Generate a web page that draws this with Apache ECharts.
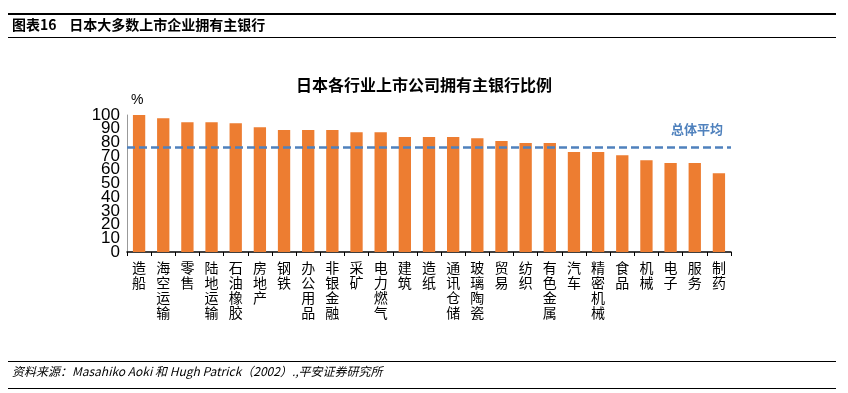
<!DOCTYPE html>
<html><head><meta charset="utf-8">
<script src="https://cdn.jsdelivr.net/npm/echarts@6/dist/echarts.min.js"></script>
<style>html,body{margin:0;padding:0;background:#fff}#c{width:848px;height:393px}</style>
</head><body><div id="c"></div>
<script>
const categories = ['造船','海空运输','零售','陆地运输','石油橡胶','房地产','钢铁','办公用品','非银金融','采矿','电力燃气','建筑','造纸','通讯仓储','玻璃陶瓷','贸易','纺织','有色金属','汽车','精密机械','食品','机械','电子','服务','制药'];
const values = [100,97.6,94.7,94.7,94,91,89,89,89,87.5,87.5,84,84,84,83,81,79.5,79.5,73,73,70.7,67,65,65,57.5];
const average = 76.7;
const yTicksEven = [0,20,40,60,80,100];
const yTicksOdd = [10,30,50,70,90];

const cjk = '"Noto Sans CJK SC", sans-serif';
const yLabelStyle = {fontFamily: '"Liberation Sans", Arial', fontSize: 17, color: '#000', margin: 7,
  showMinLabel: true, showMaxLabel: true};
const chart = echarts.init(document.getElementById('c'));
chart.setOption({
  animation: false,
  title: {
    text: '日本各行业上市公司拥有主银行比例',
    left: 'center', top: 72,
    textStyle: {fontFamily: cjk, fontSize: 16, fontWeight: 'bold', color: '#000'}
  },
  graphic: [
    {type: 'rect', shape: {x: 8, y: 13, width: 828, height: 2}, style: {fill: '#000'}},
    {type: 'text', left: 12, top: 18, style: {text: '图表16    日本大多数上市企业拥有主银行', font: 'bold 14px "Noto Sans CJK SC"', fill: '#000'}},
    {type: 'rect', shape: {x: 8, y: 37, width: 828, height: 1}, style: {fill: '#000'}},
    {type: 'rect', shape: {x: 8, y: 361, width: 828, height: 1}, style: {fill: '#000'}},
    {type: 'text', left: 12, top: 365, style: {text: '资料来源：Masahiko Aoki 和 Hugh Patrick（2002）.,平安证券研究所', font: 'italic 12px "Noto Sans CJK SC"', fill: '#000'}},
    {type: 'rect', shape: {x: 8, y: 388, width: 828, height: 1}, style: {fill: '#000'}},
    {type: 'text', left: 131, top: 93, style: {text: '%', font: '14px "Liberation Sans"', fill: '#000'}},
    {type: 'text', right: 125, top: 123, style: {text: '总体平均', font: 'bold 13px "Noto Sans CJK SC"', fill: '#4F81BD'}}
  ],
  grid: {left: 127, right: 117, top: 115, bottom: 141},
  xAxis: {
    type: 'category', data: categories,
    axisLine: {lineStyle: {color: '#000', width: 1.5}},
    axisTick: {show: true, length: 4, lineStyle: {color: '#000'}},
    axisLabel: {
      interval: 0, margin: 8, fontFamily: cjk, fontSize: 14, lineHeight: 15, color: '#000',
      verticalAlign: 'top',
      formatter: v => v.split('').join('\n')
    }
  },
  yAxis: [{
    type: 'value', min: 0, max: 100, interval: 20,
    splitLine: {show: false},
    axisLine: {show: true, lineStyle: {color: '#999', width: 1}},
    axisTick: {show: false},
    axisLabel: Object.assign({}, yLabelStyle, {formatter: v => yTicksEven.indexOf(v) >= 0 ? String(v) : ''})
  }, {
    type: 'value', min: 0, max: 100, interval: 10, position: 'left',
    splitLine: {show: false},
    axisLine: {show: false},
    axisTick: {show: false},
    axisLabel: Object.assign({}, yLabelStyle, {formatter: v => yTicksOdd.indexOf(v) >= 0 ? String(v) : ''})
  }],
  series: [{
    type: 'bar', data: values, barWidth: '51%',
    itemStyle: {color: '#ED7D31'},
    markLine: {
      symbol: 'none', silent: true,
      label: {show: false},
      lineStyle: {color: '#4F81BD', type: [8, 4], width: 2.5},
      data: [{yAxis: average}]
    }
  }]
});
</script></body></html>
